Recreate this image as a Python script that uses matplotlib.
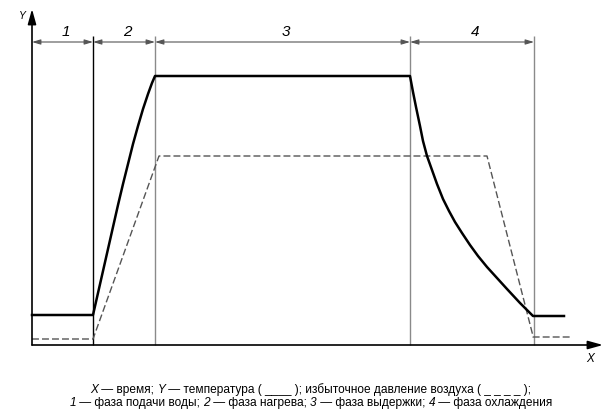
import matplotlib
matplotlib.use("Agg")
import matplotlib.pyplot as plt

# ---- data (schematic units: time / value) ----
phase_bounds = [0, 61, 123, 378, 502]
phase_labels = ["1", "2", "3", "4"]

temp_t = [0, 61, 66, 71, 76, 81, 86, 91, 96, 101, 106, 111, 116, 120, 123,
          378, 381, 384, 388, 391, 395, 400, 405, 411, 417, 423, 430, 438, 446,
          455, 465, 475, 488, 501, 532]
temp_y = [30, 30, 52, 74, 96, 118, 140, 161, 181, 201, 219, 236, 251, 262, 269,
          269, 253, 238, 219, 204, 189, 175, 161, 146, 134, 123, 112, 100, 89,
          78, 67, 56, 42, 29, 29]

press_t = [0, 61, 127, 455, 501, 501, 538]
press_y = [6, 6, 189, 189, 9, 8, 8]

x_axis_end = 571
y_axis_end = 336

caption1 = [("X", "italic"), (" \u2014 время; ", "normal"), ("Y", "italic"),
            (" \u2014 температура ( ____ ); избыточное давление воздуха ( _ _ _ _ );", "normal")]
caption2 = [("1", "italic"), (" \u2014 фаза подачи воды; ", "normal"), ("2", "italic"),
            (" \u2014 фаза нагрева; ", "normal"), ("3", "italic"),
            (" \u2014 фаза выдержки; ", "normal"), ("4", "italic"),
            (" \u2014 фаза охлаждения", "normal")]

plt.rcParams['font.family'] = ['Liberation Sans', 'DejaVu Sans']

fig = plt.figure(figsize=(6.15, 4.14), dpi=100)
ax = fig.add_axes([0, 0, 1, 1])
ax.set_xlim(-32, 583)
ax.set_ylim(-68, 346)
ax.axis('off')

# axes with arrows
ax.annotate("", xy=(x_axis_end, 0), xytext=(0, 0),
            arrowprops=dict(arrowstyle="-|>,head_length=0.9,head_width=0.25", color="black", lw=1.2,
                            shrinkA=0, shrinkB=0))
ax.annotate("", xy=(0, y_axis_end), xytext=(0, 0),
            arrowprops=dict(arrowstyle="-|>,head_length=0.9,head_width=0.25", color="black", lw=1.2,
                            shrinkA=0, shrinkB=0))
ax.text(x_axis_end - 13, -13, "X", fontstyle="italic", fontsize=8.5, ha="center", va="center")
ax.text(-10, 330, "Y", fontstyle="italic", fontsize=7.5, ha="center", va="center")

# phase boundaries
vtop = 309
for i, b in enumerate(phase_bounds[1:]):
    col = "black" if i == 0 else "#8a8a8a"
    ax.plot([b, b], [0, vtop], color=col, lw=1.0, solid_capstyle="butt")

# dimension lines
dim_y = 303
for i in range(len(phase_labels)):
    a, b = phase_bounds[i], phase_bounds[i + 1]
    ax.annotate("", xy=(b, dim_y), xytext=(a, dim_y),
                arrowprops=dict(arrowstyle="<|-|>,head_length=0.5,head_width=0.15",
                                color="#555555", lw=0.8, shrinkA=0, shrinkB=0))
    ax.text((a + b) / 2 + 3, 314, phase_labels[i], fontstyle="italic", fontsize=11,
            ha="center", va="center")

# curves
ax.plot(press_t, press_y, color="#555555", lw=1.0, dashes=(5, 2.2))
ax.plot(temp_t, temp_y, color="black", lw=1.8, solid_joinstyle="round")

# caption with mixed italic
renderer = fig.canvas.get_renderer()

def draw_line(segments, cx, y, size=8.6):
    texts = []
    for s, st in segments:
        t = ax.text(0, y, s, fontstyle=st, fontsize=size, ha="left", va="center")
        texts.append(t)
    widths = [t.get_window_extent(renderer).width for t in texts]
    x = cx - sum(widths) / 2
    for t, w in zip(texts, widths):
        t.set_x(x)
        x += w

draw_line(caption1, 279, -44)
draw_line(caption2, 279, -57)

fig.savefig("out.png", dpi=100)
